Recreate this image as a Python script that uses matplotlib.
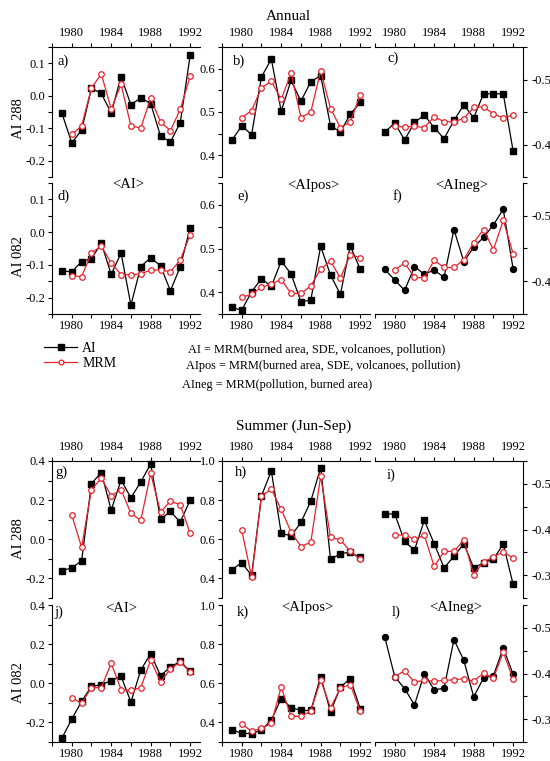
import matplotlib
matplotlib.use('Agg')
import matplotlib.pyplot as plt
from matplotlib.ticker import MultipleLocator, FuncFormatter

plt.rcParams['font.family'] = ['Liberation Serif', 'DejaVu Serif']
plt.rcParams['axes.unicode_minus'] = False

# ---------------- data ----------------
years_ai = list(range(1979, 1993))
years_mrm = list(range(1980, 1993))

# Annual, AI 288
ai_a = [-0.053, -0.145, -0.106, 0.023, 0.007, -0.053, 0.059, -0.028, -0.006, -0.024, -0.124, -0.142, -0.083, 0.124]
mrm_a = [-0.119, -0.093, 0.024, 0.067, -0.041, 0.035, -0.093, -0.099, -0.007, -0.081, -0.107, -0.042, 0.060]
ai_b = [0.435, 0.468, 0.448, 0.581, 0.622, 0.502, 0.573, 0.525, 0.570, 0.584, 0.468, 0.454, 0.495, 0.522]
mrm_b = [0.487, 0.503, 0.556, 0.571, 0.529, 0.590, 0.487, 0.500, 0.595, 0.508, 0.464, 0.477, 0.539]
ai_c = [-0.419, -0.433, -0.407, -0.434, -0.445, -0.426, -0.409, -0.437, -0.461, -0.441, -0.478, -0.478, -0.478, -0.390]
mrm_c = [-0.428, -0.427, -0.428, -0.426, -0.443, -0.435, -0.435, -0.440, -0.457, -0.458, -0.447, -0.441, -0.445]
# Annual, AI 082
ai_d = [-0.119, -0.121, -0.090, -0.081, -0.034, -0.129, -0.064, -0.223, -0.105, -0.078, -0.103, -0.179, -0.106, 0.014]
mrm_d = [-0.133, -0.136, -0.063, -0.043, -0.094, -0.130, -0.130, -0.127, -0.116, -0.115, -0.121, -0.085, -0.008]
ai_e = [0.365, 0.359, 0.401, 0.431, 0.413, 0.471, 0.442, 0.378, 0.382, 0.505, 0.439, 0.395, 0.506, 0.453]
mrm_e = [0.388, 0.395, 0.411, 0.419, 0.429, 0.397, 0.397, 0.414, 0.453, 0.471, 0.432, 0.486, 0.479]
ai_f = [-0.418, -0.402, -0.386, -0.422, -0.411, -0.417, -0.406, -0.479, -0.430, -0.452, -0.467, -0.486, -0.510, -0.419]
mrm_f = [-0.417, -0.428, -0.406, -0.405, -0.432, -0.421, -0.421, -0.433, -0.459, -0.479, -0.448, -0.493, -0.442]
# Summer, AI 288
ai_g = [-0.161, -0.146, -0.110, 0.285, 0.341, 0.149, 0.303, 0.212, 0.293, 0.385, 0.102, 0.142, 0.088, 0.200]
mrm_g = [0.124, -0.041, 0.254, 0.312, 0.222, 0.254, 0.132, 0.097, 0.337, 0.139, 0.195, 0.176, 0.031]
ai_h = [0.444, 0.481, 0.415, 0.822, 0.949, 0.631, 0.617, 0.686, 0.795, 0.966, 0.497, 0.527, 0.534, 0.507]
mrm_h = [0.647, 0.407, 0.822, 0.856, 0.753, 0.637, 0.563, 0.585, 0.922, 0.610, 0.597, 0.539, 0.497]
ai_i = [-0.434, -0.434, -0.374, -0.355, -0.420, -0.369, -0.316, -0.341, -0.369, -0.316, -0.327, -0.335, -0.368, -0.280]
mrm_i = [-0.388, -0.388, -0.379, -0.387, -0.319, -0.352, -0.352, -0.377, -0.301, -0.329, -0.340, -0.351, -0.337]
# Summer, AI 082
ai_j = [-0.281, -0.183, -0.093, -0.015, -0.008, 0.014, 0.036, -0.096, 0.068, 0.151, 0.039, 0.083, 0.112, 0.061]
mrm_j = [-0.074, -0.102, -0.022, -0.022, 0.102, -0.032, -0.036, -0.022, 0.118, 0.007, 0.073, 0.108, 0.058]
ai_k = [0.363, 0.344, 0.343, 0.361, 0.412, 0.522, 0.476, 0.461, 0.461, 0.634, 0.454, 0.580, 0.624, 0.471]
mrm_k = [0.392, 0.355, 0.370, 0.395, 0.581, 0.431, 0.431, 0.458, 0.617, 0.475, 0.576, 0.593, 0.460]
ai_l = [-0.479, -0.393, -0.367, -0.331, -0.400, -0.364, -0.368, -0.474, -0.429, -0.349, -0.390, -0.395, -0.456, -0.398]
mrm_l = [-0.393, -0.406, -0.381, -0.385, -0.383, -0.385, -0.386, -0.389, -0.383, -0.401, -0.390, -0.447, -0.387]

series_labels = ['AI', 'MRM']
group_titles = ['Annual', 'Summer (Jun-Sep)']
row_ylabels = ['AI 288', 'AI 082', 'AI 288', 'AI 082']
col_headers = ['<AI>', '<AIpos>', '<AIneg>']
equations = ['AI = MRM(burned area, SDE, volcanoes, pollution)',
             'AIpos = MRM(burned area, SDE, volcanoes, pollution)',
             'AIneg = MRM(pollution, burned area)']
letters = ['a)', 'b)', 'c)', 'd)', 'e)', 'f)', 'g)', 'h)', 'i)', 'j)', 'k)', 'l)']

# ---------------- layout ----------------
W, H = 550, 761
fig = plt.figure(figsize=(W / 100, H / 100), dpi=100)

rows_px = [(47, 177), (183, 314), (461, 598), (605, 742)]
cols_px = [(52, 200), (222, 370), (375, 523)]


def rect(l, t, r, b):
    return [l / W, 1 - b / H, (r - l) / W, (b - t) / H]


def fmt(v, pos):
    return f"{round(v, 1) + 0.0:.1f}"


panels = [
    (0, 0, ai_a, mrm_a, (-0.25, 0.15), 0.1, 0.05, 's'),
    (0, 1, ai_b, mrm_b, (0.35, 0.65), 0.1, 0.05, 's'),
    (0, 2, ai_c, mrm_c, (-0.35, -0.55), 0.1, 0.05, 's'),
    (1, 0, ai_d, mrm_d, (-0.25, 0.15), 0.1, 0.05, 's'),
    (1, 1, ai_e, mrm_e, (0.35, 0.65), 0.1, 0.05, 's'),
    (1, 2, ai_f, mrm_f, (-0.35, -0.55), 0.1, 0.05, 'o'),
    (2, 0, ai_g, mrm_g, (-0.3, 0.4), 0.2, 0.1, 's'),
    (2, 1, ai_h, mrm_h, (0.3, 1.0), 0.2, 0.1, 's'),
    (2, 2, ai_i, mrm_i, (-0.25, -0.55), 0.1, 0.05, 's'),
    (3, 0, ai_j, mrm_j, (-0.3, 0.4), 0.2, 0.1, 's'),
    (3, 1, ai_k, mrm_k, (0.3, 1.0), 0.2, 0.1, 's'),
    (3, 2, ai_l, mrm_l, (-0.25, -0.55), 0.1, 0.05, 'o'),
]

TICK_FS = 9
handles = None
for (r, c, ai, mrm, ylim, maj, mnr, mk) in panels:
    t, b = rows_px[r]
    l, rr = cols_px[c]
    ax = fig.add_axes(rect(l, t, rr, b))
    ax.patch.set_alpha(0)
    la, = ax.plot(years_ai, ai, color='black', marker=mk, ms=4.3, lw=0.9,
                  clip_on=False, zorder=3)
    lm, = ax.plot(years_mrm, mrm, color='#e8202a', marker='o', ms=4, mfc='white',
                  mec='#e8202a', mew=0.9, lw=0.9, clip_on=False, zorder=4)
    if handles is None:
        handles = [la, lm]
    ax.set_xlim(1978, 1993)
    ax.set_ylim(*ylim)
    ax.xaxis.set_major_locator(MultipleLocator(4))
    ax.xaxis.set_minor_locator(MultipleLocator(2))
    ax.yaxis.set_major_locator(MultipleLocator(maj))
    ax.yaxis.set_minor_locator(MultipleLocator(mnr))
    ax.yaxis.set_major_formatter(FuncFormatter(fmt))
    top = r in (0, 2)
    right = c == 2
    for s in ax.spines.values():
        s.set_linewidth(0.8)
    ax.spines['bottom'].set_visible(not top)
    ax.spines['top'].set_visible(top)
    ax.spines['left'].set_visible(not right)
    ax.spines['right'].set_visible(right)
    if top:
        ax.xaxis.tick_top()
    else:
        ax.xaxis.tick_bottom()
    if right:
        ax.yaxis.tick_right()
    else:
        ax.yaxis.tick_left()
    ax.tick_params(axis='x', which='both', direction='out', length=3, width=0.8,
                   pad=2.5 if top else 1.5, labelsize=TICK_FS)
    ax.tick_params(axis='y', which='both', direction='out', length=3, width=0.8,
                   pad=1.5 if not right else 3, labelsize=TICK_FS)

# ---------------- texts ----------------
def ftext(x, y, s, **kw):
    fig.text(x / W, 1 - y / H, s, **kw)

ftext(288, 16, group_titles[0], ha='center', va='center', fontsize=11)
ftext(294, 426, group_titles[1], ha='center', va='center', fontsize=11)

letter_pos = [(57, 61), (233, 61), (387, 58), (57, 196), (237, 196), (393, 196),
              (55, 472), (235, 472), (387, 475), (54, 612), (237, 612), (392, 612)]
for s, (x, y) in zip(letters, letter_pos):
    ftext(x, y, s, ha='left', va='center', fontsize=10.5)

header_pos = [[(128, 185), (313, 185), (462, 185)], [(121, 608), (307, 608), (456, 608)]]
for row in header_pos:
    for s, (x, y) in zip(col_headers, row):
        ftext(x, y, s, ha='center', va='center', fontsize=10.5)

ylabel_pos = [(18, 119), (18, 257), (18, 539), (18, 683)]
for s, (x, y) in zip(row_ylabels, ylabel_pos):
    ftext(x, y, s, ha='center', va='center', rotation=90, fontsize=10.5)

eq_pos = [(188, 350), (186, 366), (182, 385)]
for s, (x, y) in zip(equations, eq_pos):
    ftext(x, y, s, ha='left', va='center', fontsize=8.8)

fig.legend(handles=handles, labels=series_labels, loc='upper left',
           bbox_to_anchor=(44 / W, 1 - 342 / H), frameon=False, fontsize=10,
           handlelength=2.4, handletextpad=0.35, labelspacing=0.15,
           borderpad=0, borderaxespad=0, numpoints=1, markerscale=0.85)

fig.savefig('out.png', dpi=100)
